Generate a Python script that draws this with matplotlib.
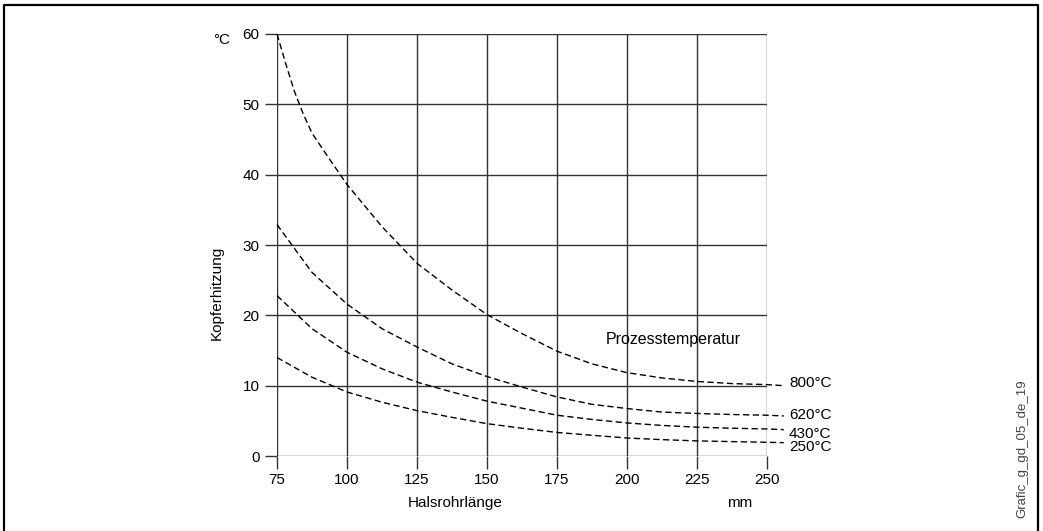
import matplotlib.pyplot as plt
from matplotlib.lines import Line2D

plt.rcParams['font.family'] = ['Liberation Sans', 'DejaVu Sans']

# Halsrohrlänge in mm (last point: line runs a little past the axis)
length = [75, 87.5, 100, 112.5, 125, 137.5, 150, 162.5, 175, 187.5,
          200, 212.5, 225, 237.5, 250, 256]
length_800 = [75, 78.1, 81.25, 84.4, 87.5, 93.75, 100, 112.5, 125, 137.5, 150,
              162.5, 175, 187.5, 200, 212.5, 225, 237.5, 250, 256]

# Kopferhitzung in °C
t800 = [60, 55.8, 51.8, 48.6, 45.9, 42.2, 38.6, 32.6, 27.4, 23.6, 20.1,
        17.4, 14.9, 13.1, 11.85, 11.1, 10.6, 10.3, 10.15, 10.0]
t620 = [32.9, 26.1, 21.6, 18.1, 15.5, 13.1, 11.3, 9.8, 8.4, 7.35,
        6.75, 6.25, 6.05, 5.9, 5.8, 5.7]
t430 = [22.8, 18.1, 14.75, 12.4, 10.5, 9.1, 7.8, 6.8, 5.8, 5.2,
        4.7, 4.35, 4.1, 3.95, 3.85, 3.75]
t250 = [14.0, 11.2, 9.1, 7.65, 6.45, 5.5, 4.6, 3.95, 3.35, 2.95,
        2.56, 2.33, 2.15, 2.05, 1.95, 1.9]

labels = ['800°C', '620°C', '430°C', '250°C']
label_y = [10.4, 5.9, 3.2, 1.25]

x_ticks = [75, 100, 125, 150, 175, 200, 225, 250]
y_ticks = [0, 10, 20, 30, 40, 50, 60]

grid_color = '#333333'
dash = (0, (4.5, 2.5))

fig = plt.figure(figsize=(10.43, 5.31), dpi=100)
ax = fig.add_axes([0.2656, 0.1412, 0.4698, 0.7948])

ax.set_xlim(75, 250)
ax.set_ylim(0, 60)
ax.set_xticks(x_ticks)
ax.set_yticks(y_ticks)
ax.grid(True, color=grid_color, linewidth=1.0)
ax.set_axisbelow(True)
for s in ax.spines.values():
    s.set_visible(False)
ax.tick_params(direction='out', length=9, width=1.0, color=grid_color,
               labelsize=11, pad=3.5)

ax.plot(length_800, t800, color='black', lw=1.0, linestyle=dash, clip_on=False)
for ys in [t620, t430, t250]:
    ax.plot(length, ys, color='black', lw=1.0, linestyle=dash, clip_on=False)

for lab, yv in zip(labels, label_y):
    ax.annotate(lab, xy=(250, yv), xytext=(22, 0), textcoords='offset pixels',
                fontsize=11, va='center', ha='left', annotation_clip=False)

ax.text(216.4, 16.6, 'Prozesstemperatur', fontsize=11.5, ha='center', va='center')

fig.text(222 / 1043, 1 - 40 / 531, '°C', fontsize=11, ha='center', va='center')
fig.text(217 / 1043, 1 - 293 / 531, 'Kopferhitzung', fontsize=11, rotation=90,
         ha='center', va='center')
fig.text(455 / 1043, 1 - 503 / 531, 'Halsrohrlänge', fontsize=11,
         ha='center', va='center')
fig.text(740 / 1043, 1 - 503 / 531, 'mm', fontsize=11, ha='center', va='center')
fig.text(1022 / 1043, 1 - 449 / 531, 'Grafic_g_gd_05_de_19', fontsize=9.5,
         rotation=90, ha='center', va='center', color='#444444')

# frame around the figure (left, top, right)
x0, x1 = 3.5 / 1043, 1038 / 1043
y1 = 1 - 5 / 531
fig.add_artist(Line2D([x0, x0, x1, x1], [0, y1, y1, 0], color='black', lw=1.6))

fig.savefig('out.png', dpi=100, facecolor='white')
